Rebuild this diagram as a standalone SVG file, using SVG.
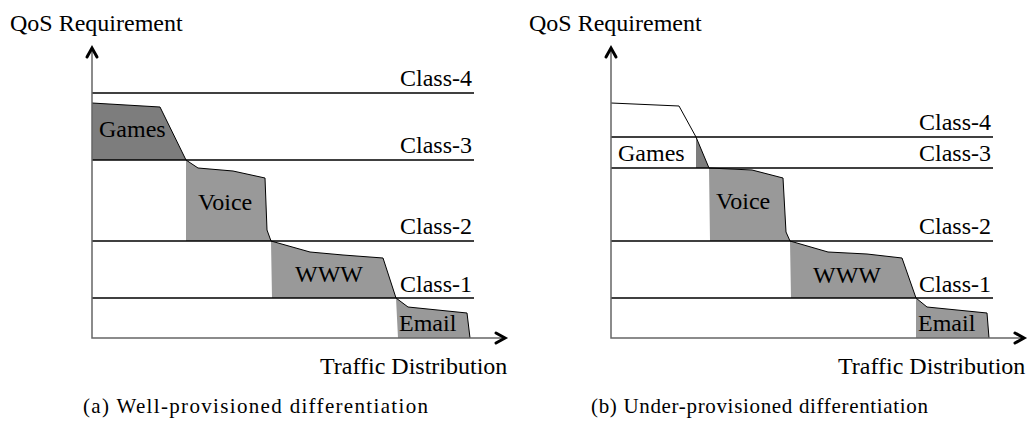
<svg xmlns="http://www.w3.org/2000/svg" width="1029" height="435" viewBox="0 0 1029 435">
  <style>
    .lbl { font-family: "Liberation Serif", "Times New Roman", serif; font-size: 24px; fill: #000; }
    .cls { font-family: "Liberation Serif", "Times New Roman", serif; font-size: 24px; fill: #000; text-anchor: end; }
    .cap { font-family: "Liberation Serif", "Times New Roman", serif; font-size: 21px; fill: #000; }
    .axis { stroke: #666; stroke-width: 1.5; fill: none; }
    .level { stroke: #000; stroke-width: 1.3; fill: none; }
    .profile { stroke: #000; stroke-width: 1; fill: none; stroke-linejoin: round; }
    .band { fill: #999; stroke: none; }
    .band-dark { fill: #7d7d7d; stroke: none; }
    .head { stroke: #000; stroke-width: 3; fill: none; stroke-linecap: round; stroke-linejoin: miter; }
  </style>

  <!-- Panel (a): well-provisioned -->
  <g id="panel-a">
    <g id="a-games">
      <polygon class="band-dark" points="92,103 160,107 186,160 92,160"/>
      <text class="lbl" x="99" y="137">Games</text>
    </g>
    <g id="a-voice">
      <polygon class="band" points="186,160 198,168 233,171 265,178 267,230 271,241 186,241"/>
      <text class="lbl" x="198" y="210">Voice</text>
    </g>
    <g id="a-www">
      <polygon class="band" points="271,241 310,252 343,255 383,258 396,298 272,298"/>
      <text class="lbl" x="295" y="282">WWW</text>
    </g>
    <g id="a-email">
      <polygon class="band" points="396,298 408,307 467,313 470,338 398,338"/>
      <text class="lbl" x="399" y="331">Email</text>
    </g>
    <g id="a-levels">
      <line class="level" x1="92" y1="93" x2="474" y2="93"/>
      <line class="level" x1="92" y1="160" x2="474" y2="160"/>
      <line class="level" x1="92" y1="241" x2="474" y2="241"/>
      <line class="level" x1="92" y1="298" x2="474" y2="298"/>
      <text class="cls" x="472" y="86">Class-4</text>
      <text class="cls" x="472" y="153">Class-3</text>
      <text class="cls" x="472" y="234">Class-2</text>
      <text class="cls" x="472" y="292">Class-1</text>
    </g>
    <g id="a-axes">
      <polyline class="profile" points="92,103 160,107 186,160 198,168 233,171 265,178 267,230 271,241 310,252 343,255 383,258 396,298 408,307 467,313 470,338"/>
      <polyline class="axis" points="92,48 92,338 505,338"/>
      <polyline class="head" points="87,57 92,48 97,57"/>
      <polyline class="head" points="496,333 505,338 496,343"/>
      <text class="lbl" x="10" y="31">QoS Requirement</text>
      <text class="lbl" x="320" y="374">Traffic Distribution</text>
    </g>
    <text class="cap" x="83" y="413" textLength="345" lengthAdjust="spacing">(a) Well-provisioned differentiation</text>
  </g>

  <!-- Panel (b): under-provisioned -->
  <g id="panel-b">
    <g id="b-games">
      <polygon class="band-dark" points="696,137 709,168 696,168"/>
      <text class="lbl" x="618" y="161">Games</text>
    </g>
    <g id="b-voice">
      <polygon class="band" points="709,168 752,170 783,178 786,232 790,241 710,241"/>
      <text class="lbl" x="716" y="209">Voice</text>
    </g>
    <g id="b-www">
      <polygon class="band" points="790,241 828,252 867,254 902,258 916,298 791,298"/>
      <text class="lbl" x="813" y="283">WWW</text>
    </g>
    <g id="b-email">
      <polygon class="band" points="916,298 927,307 987,313 989,338 916,338"/>
      <text class="lbl" x="918" y="331">Email</text>
    </g>
    <g id="b-levels">
      <line class="level" x1="611" y1="137" x2="993" y2="137"/>
      <line class="level" x1="611" y1="168" x2="993" y2="168"/>
      <line class="level" x1="611" y1="241" x2="993" y2="241"/>
      <line class="level" x1="611" y1="298" x2="993" y2="298"/>
      <text class="cls" x="991" y="130">Class-4</text>
      <text class="cls" x="991" y="161">Class-3</text>
      <text class="cls" x="991" y="234">Class-2</text>
      <text class="cls" x="991" y="292">Class-1</text>
    </g>
    <g id="b-axes">
      <polyline class="profile" points="611,103 679,106 696,137 709,168 752,170 783,178 786,232 790,241 828,252 867,254 902,258 916,298 927,307 987,313 989,338"/>
      <polyline class="axis" points="611,48 611,338 1024,338"/>
      <polyline class="head" points="606,57 611,48 616,57"/>
      <polyline class="head" points="1015,333 1024,338 1015,343"/>
      <text class="lbl" x="529" y="31">QoS Requirement</text>
      <text class="lbl" x="838" y="374">Traffic Distribution</text>
    </g>
    <text class="cap" x="591" y="413" textLength="337" lengthAdjust="spacing">(b) Under-provisioned differentiation</text>
  </g>
</svg>
